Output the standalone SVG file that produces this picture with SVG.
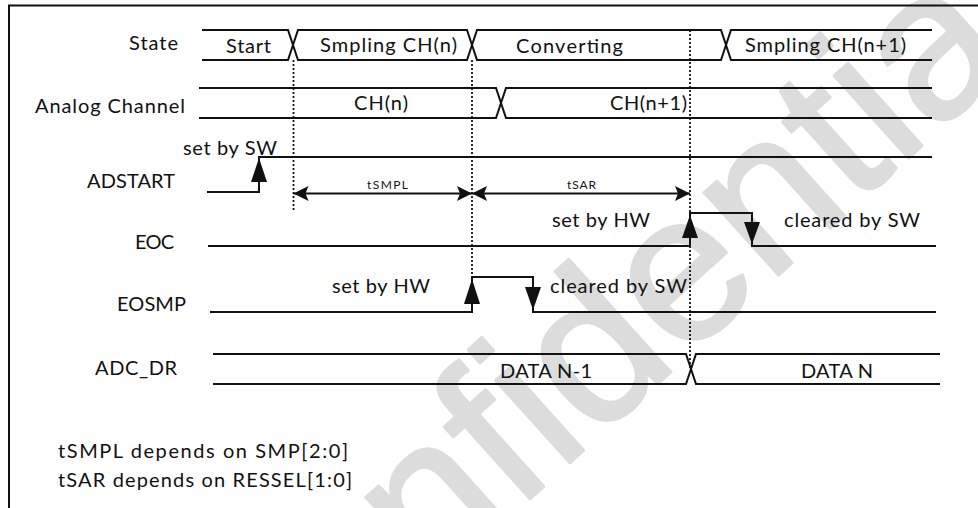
<svg xmlns="http://www.w3.org/2000/svg" width="978" height="508" viewBox="0 0 978 508">
<style>
text{font-family:Lato,"Liberation Sans",sans-serif;fill:#111;font-size:20px}
.sig{fill:none;stroke:#111;stroke-width:2}
.dot{fill:none;stroke:#111;stroke-width:1.8;stroke-dasharray:2 2}
.dim{fill:none;stroke:#111;stroke-width:2}
.ah{fill:#111;stroke:none}
.small{font-size:12px}
.wm{font-family:"Liberation Sans",sans-serif;font-size:210px;fill:#dcdcdc;stroke:#dcdcdc;stroke-width:3;stroke-linejoin:round}
</style>
<defs>
<marker id="dimArrow" viewBox="0 0 16 16" refX="15" refY="8" markerWidth="16" markerHeight="16" markerUnits="userSpaceOnUse" orient="auto-start-reverse">
<path d="M0,0.5 L15,8 L0,15.5 L3,8 Z" fill="#111"/>
</marker>
</defs>
<rect width="978" height="508" fill="#fff"/>
<text class="wm" transform="translate(642,398) rotate(-42)" text-anchor="middle">Confidential</text>
<rect x="9" y="5.5" width="1000" height="600" fill="none" stroke="#111" stroke-width="2"/>

<g id="state">
<text x="129" y="50" textLength="49">State</text>
<path class="sig" d="M202,30 H288 L298,60 H467 L477,30 H721 L731,60 H932"/>
<path class="sig" d="M202,60 H288 L298,30 H467 L477,60 H721 L731,30 H932"/>
<text x="226" y="53" textLength="45">Start</text>
<text x="320" y="52" textLength="137">Smpling CH(n)</text>
<text x="516" y="53" textLength="107">Converting</text>
<text x="745" y="52" textLength="161">Smpling CH(n+1)</text>
</g>

<g id="analog">
<text x="35" y="113" textLength="150">Analog Channel</text>
<path class="sig" d="M199,88 H496 L506,118 H932"/>
<path class="sig" d="M199,118 H496 L506,88 H932"/>
<text x="354" y="110" textLength="54">CH(n)</text>
<text x="610" y="110" textLength="77">CH(n+1)</text>
</g>

<g id="adstart">
<text x="87" y="188" textLength="88">ADSTART</text>
<path class="sig" d="M207,192 H259 V157 H932"/>
<polygon class="ah" points="259,158 267,182 251,182"/>
<text x="183" y="155" textLength="94">set by SW</text>
</g>

<g id="eoc">
<text x="135" y="249" textLength="39">EOC</text>
<path class="sig" d="M208,246 H690 V213 H752 V246 H936"/>
<polygon class="ah" points="690,215 698,238 682,238"/>
<polygon class="ah" points="744,222 760,222 752,244"/>
<text x="552" y="227" textLength="98">set by HW</text>
<text x="784" y="227" textLength="136">cleared by SW</text>
</g>

<g id="eosmp">
<text x="117" y="311" textLength="69">EOSMP</text>
<path class="sig" d="M210,312 H472 V277 H533 V312 H936"/>
<polygon class="ah" points="472,279 480,304 464,304"/>
<polygon class="ah" points="525,287 541,287 533,310"/>
<text x="332" y="293" textLength="98">set by HW</text>
<text x="550" y="293" textLength="137">cleared by SW</text>
</g>

<g id="adc_dr">
<text x="95" y="375" textLength="82">ADC_DR</text>
<path class="sig" d="M213,354 H686 L696,384 H940"/>
<path class="sig" d="M213,384 H686 L696,354 H940"/>
<text x="500" y="378" textLength="92">DATA N-1</text>
<text x="801" y="378" textLength="72">DATA N</text>
</g>

<g id="connectors">
<path class="dot" d="M293.5,60 V212"/>
<path class="dot" d="M472,60 V277"/>
<path class="dot" d="M690,30 V369"/>
<path class="dim" d="M293.5,193.5 H472" marker-start="url(#dimArrow)" marker-end="url(#dimArrow)"/>
<path class="dim" d="M472,193.5 H690" marker-start="url(#dimArrow)" marker-end="url(#dimArrow)"/>
</g>

<g id="dim-labels">
<text class="small" x="367" y="189" textLength="41">tSMPL</text>
<text class="small" x="567" y="189" textLength="29">tSAR</text>
</g>

<g id="notes">
<text x="58" y="458" textLength="290">tSMPL depends  on SMP[2:0]</text>
<text x="58" y="487" textLength="294">tSAR depends on RESSEL[1:0]</text>
</g>
</svg>
